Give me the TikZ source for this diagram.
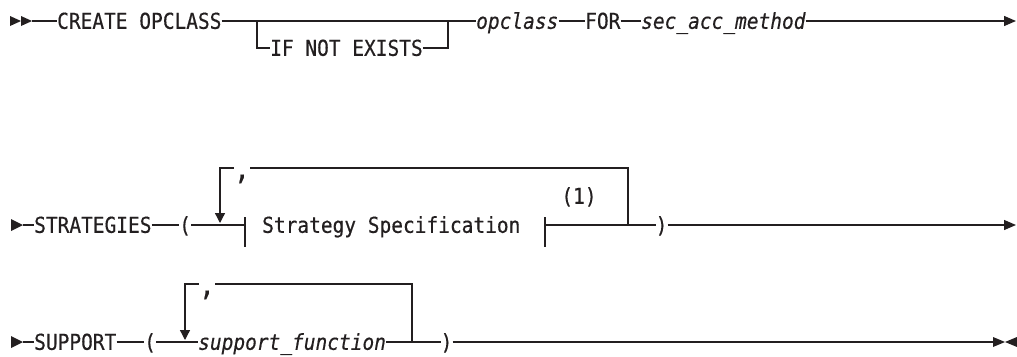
\documentclass[tikz,border=0pt]{standalone}
\usepackage{fontspec}
\setmonofont{DejaVu Sans Mono}[FakeStretch=0.89, FakeBold=0.4, ItalicFont={DejaVu Sans Mono Oblique}]
\usetikzlibrary{arrows.meta}
\definecolor{ink}{HTML}{231F20}
\tikzset{
  kw/.style={inner sep=0pt, text height=15.6pt, text depth=0pt, anchor=west, text=ink,
    font=\fontsize{21.9}{24}\selectfont\ttfamily},
  var/.style={kw, font=\fontsize{21.9}{24}\selectfont\ttfamily\itshape},
  commanode/.style={inner sep=0pt, anchor=base, text=ink, font=\fontsize{30}{30}\selectfont\ttfamily},
  rail/.style={line width=1.3pt, draw=ink},
  endtip/.style={-{Triangle[length=12pt,width=10pt]}},
  downtip/.style={-{Triangle[length=10pt,width=10pt]}},
}
\begin{document}
\begin{tikzpicture}[x=1pt,y=-1pt]
\useasboundingbox (0,0) rectangle (1017,356);
% ---------- row 1 ----------
\fill[ink] (10,16) -- (21,21) -- (10,26) -- cycle;
\fill[ink] (21,16) -- (32,21) -- (21,26) -- cycle;
\coordinate (s1) at (32,21);
\node[kw] (create) at (57,21) {CREATE OPCLASS};
\node[kw] (ifne) at (270,48) {IF NOT EXISTS};
\node[var] (opc) at (476,21) {opclass};
\node[kw] (for) at (585,21) {FOR};
\node[var] (sam) at (641,21) {sec\_acc\_method};
\coordinate (b1) at (257,21);
\coordinate (b2) at (448,21);
\coordinate (e1) at (1016,21);
\draw[rail] (s1) -- (create.west);
\draw[rail] (create.east) -- (opc.west);
\draw[rail] (b1) |- (ifne.west);
\draw[rail] (ifne.east) -| (b2);
\draw[rail] (opc.east) -- (for.west);
\draw[rail] (for.east) -- (sam.west);
\draw[rail,endtip] (sam.east) -- (e1);
% ---------- row 2 ----------
\fill[ink] (11,219) -- (23,225) -- (11,231) -- cycle;
\coordinate (s2) at (23,225);
\node[kw] (strat) at (34,225) {STRATEGIES};
\node[kw] (lp2) at (179,225) {(};
\node[kw] (spec) at (262,225) {Strategy Specification};
\node[kw] (rp2) at (655.5,225) {)};
\node[kw,anchor=center] (n1) at (579,196) {(1)};
\node[commanode] (cm2) at (242,179) {,};
\coordinate (bl) at (245,225);
\coordinate (br) at (545,225);
\coordinate (lt2) at (220,168);
\coordinate (ld2) at (220,223);
\coordinate (rt2) at (628,168);
\coordinate (rj2) at (628,225);
\coordinate (e2) at (1016,225);
\draw[rail] (s2) -- (strat.west);
\draw[rail] (strat.east) -- (lp2.west);
\draw[rail] (lp2.east) -- (bl);
\draw[rail] (bl) ++(0,-8) -- ++(0,30);
\draw[rail] (br) ++(0,-8) -- ++(0,30);
\draw[rail] (br) -- (rp2.west);
\draw[rail] (rj2) -- (rt2) -- (cm2.east |- rt2);
\draw[rail,downtip] (cm2.west |- lt2) -- (lt2) -- (ld2);
\draw[rail,endtip] (rp2.east) -- (e2);
% ---------- row 3 ----------
\fill[ink] (11,336) -- (23,342) -- (11,348) -- cycle;
\coordinate (s3) at (23,342);
\node[kw] (supp) at (34,342) {SUPPORT};
\node[kw] (lp3) at (144,342) {(};
\node[var] (sf) at (198,342) {support\_function};
\node[kw] (rp3) at (440.5,342) {)};
\node[commanode] (cm3) at (207,295) {,};
\coordinate (lt3) at (185,284);
\coordinate (ld3) at (185,340);
\coordinate (rt3) at (412,284);
\coordinate (rj3) at (412,342);
\coordinate (e3) at (993,342);
\draw[rail] (s3) -- (supp.west);
\draw[rail] (supp.east) -- (lp3.west);
\draw[rail] (lp3.east) -- (sf.west);
\draw[rail] (sf.east) -- (rp3.west);
\draw[rail] (rj3) -- (rt3) -- (cm3.east |- rt3);
\draw[rail,downtip] (cm3.west |- lt3) -- (lt3) -- (ld3);
\draw[rail] (rp3.east) -- (e3);
\fill[ink] (993,337) -- (1005,342) -- (993,347) -- cycle;
\fill[ink] (1017,337) -- (1005,342) -- (1017,347) -- cycle;
\end{tikzpicture}
\end{document}
